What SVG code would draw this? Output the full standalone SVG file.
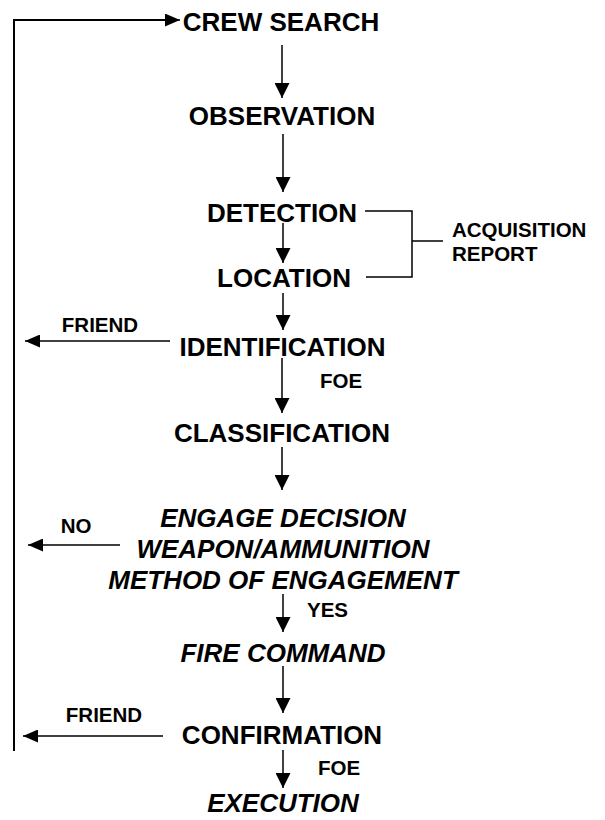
<svg xmlns="http://www.w3.org/2000/svg" width="605" height="820" viewBox="0 0 605 820">
<style>
.n{font-family:"Liberation Sans",Arial,sans-serif;font-weight:bold;font-size:26px;fill:#000;text-anchor:middle}
.i{font-style:italic}
.s{font-family:"Liberation Sans",Arial,sans-serif;font-weight:bold;font-size:20.5px;fill:#000}
.c{stroke:#000;stroke-width:1.5;fill:none}
.l{stroke:#000;stroke-width:2;fill:none}
</style>
<defs>
<marker id="ah" markerWidth="15" markerHeight="15" refX="15" refY="7.5" orient="auto" markerUnits="userSpaceOnUse">
<path d="M0,0 L15,7.5 L0,15 Z" fill="#000"/>
</marker>
<marker id="as" markerWidth="15" markerHeight="13" refX="15" refY="6.5" orient="auto" markerUnits="userSpaceOnUse">
<path d="M0,0 L15,6.5 L0,13 Z" fill="#000"/>
</marker>
</defs>
<rect width="605" height="820" fill="#fff"/>
<g id="connectors">
<path class="l" d="M14,751 L14,20 L165,20"/>
<path class="c" d="M165,20 L180,20" marker-end="url(#as)"/>
<line class="c" x1="282" y1="45" x2="282" y2="98" marker-end="url(#ah)"/>
<line class="c" x1="283" y1="134" x2="283" y2="192" marker-end="url(#ah)"/>
<line class="c" x1="283" y1="223" x2="283" y2="263" marker-end="url(#ah)"/>
<line class="c" x1="283" y1="293" x2="283" y2="330" marker-end="url(#ah)"/>
<line class="c" x1="282" y1="358" x2="282" y2="413" marker-end="url(#ah)"/>
<line class="c" x1="282" y1="447" x2="282" y2="490" marker-end="url(#ah)"/>
<line class="c" x1="283" y1="594" x2="283" y2="632" marker-end="url(#ah)"/>
<line class="c" x1="283" y1="666" x2="283" y2="713" marker-end="url(#ah)"/>
<line class="c" x1="283" y1="750" x2="283" y2="788" marker-end="url(#ah)"/>
<path class="c" d="M365,211 L412,211 L412,277 L366,277 M412,241 L443,241"/>
<line class="c" x1="170" y1="341" x2="25" y2="341" marker-end="url(#as)"/>
<line class="c" x1="120" y1="545" x2="28" y2="545" marker-end="url(#as)"/>
<line class="c" x1="163" y1="736" x2="23" y2="736" marker-end="url(#as)"/>
</g>
<g id="crew-search"><text class="n" x="281" y="31">CREW SEARCH</text></g>
<g id="observation"><text class="n" x="282" y="125">OBSERVATION</text></g>
<g id="detection"><text class="n" x="282" y="222">DETECTION</text></g>
<g id="location"><text class="n" x="284" y="287">LOCATION</text></g>
<g id="acquisition-report"><text class="s" x="452" y="237">ACQUISITION</text><text class="s" x="452" y="261">REPORT</text></g>
<g id="identification"><text class="n" x="282.5" y="356">IDENTIFICATION</text></g>
<g id="friend1"><text class="s" x="100" y="332" text-anchor="middle">FRIEND</text></g>
<g id="foe1"><text class="s" x="320" y="388">FOE</text></g>
<g id="classification"><text class="n" x="282" y="442">CLASSIFICATION</text></g>
<g id="engage"><text class="n i" x="283" y="527">ENGAGE DECISION</text><text class="n i" x="283" y="558">WEAPON/AMMUNITION</text><text class="n i" x="283" y="589">METHOD OF ENGAGEMENT</text></g>
<g id="no"><text class="s" x="76" y="533" text-anchor="middle">NO</text></g>
<g id="yes"><text class="s" x="307" y="617">YES</text></g>
<g id="fire-command"><text class="n i" x="283" y="662">FIRE COMMAND</text></g>
<g id="friend2"><text class="s" x="104" y="722" text-anchor="middle">FRIEND</text></g>
<g id="confirmation"><text class="n" x="282" y="744">CONFIRMATION</text></g>
<g id="foe2"><text class="s" x="318" y="775">FOE</text></g>
<g id="execution"><text class="n i" x="283" y="812">EXECUTION</text></g>
</svg>
